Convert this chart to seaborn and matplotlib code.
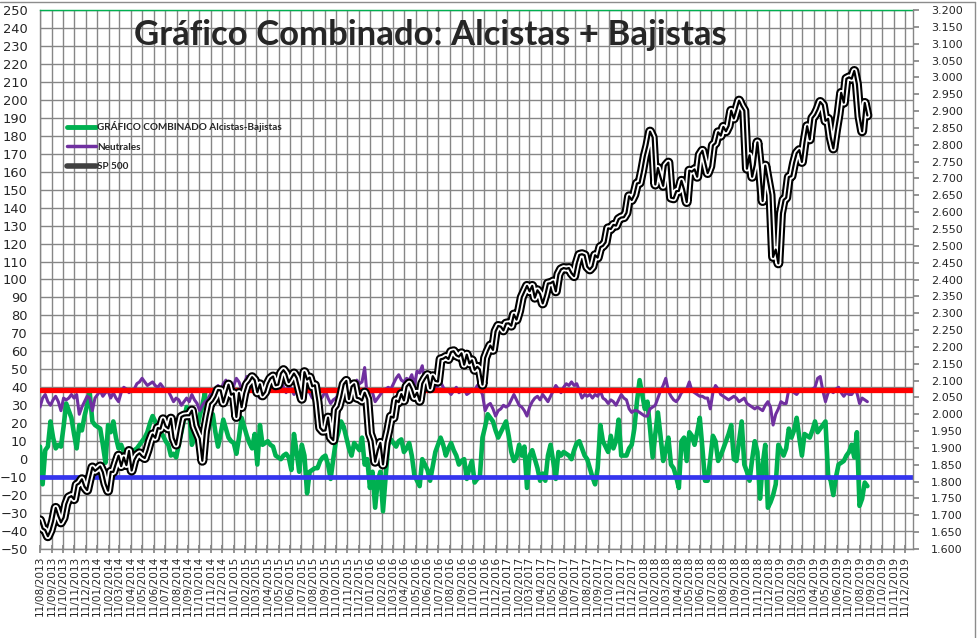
import numpy as np
import pandas as pd
import matplotlib
matplotlib.use('Agg')
import matplotlib.pyplot as plt
import matplotlib.dates as mdates
from matplotlib.lines import Line2D
from matplotlib.ticker import MultipleLocator, FuncFormatter
import seaborn as sns

sns.set_theme(style='white')
plt.rcParams['font.family'] = ['DejaVu Sans']

# ---------------- data ----------------
start_date = '2013-08-11'

# Bull-Bear spread (weekly)
spread = [7, -14, 5, 7, 21, 12, 6, 8, 7, 18,
          31, 27, 23, 14, 6, 19, 16, 24, 30, 37,
          21, 19, 18, 17, 8, -2, 19, 15, 21, 12,
          6, 8, 4, 1, -3, -7, 5, 6, 8, 10,
          12, 15, 20, 24, 21, 18, 15, 13, 10, 8,
          2, 3, 1, 8, 15, 22, 29, 27, 8, 12,
          17, 24, 30, 37, 15, 20, 25, 15, 7, 14,
          22, 17, 12, 10, 9, 3, 12, 23, 18, 13,
          9, 6, 14, -3, 19, 8, 9, 10, 8, 7,
          2, 1, 0, 2, 3, 1, -6, 14, 4, -7,
          8, 2, -19, -7, -6, -5, -5, -1, 1, 2,
          -3, -11, 0, 10, 15, 21, 18, 12, 6, 2,
          9, 7, 5, 12, -3, 0, -16, -7, -27, -12,
          -7, -29, -10, 8, 11, 9, 7, 10, 11, 4,
          6, 9, 2, -9, -12, -15, 0, -3, -6, -12,
          -4, 4, 8, 12, 8, 2, 6, 9, 5, 2,
          -3, -1, 0, -11, -5, -1, -13, -11, -10, 12,
          18, 25, 23, 21, 16, 12, 15, 18, 21, 13,
          4, -1, 1, 8, 2, 7, -16, 2, 5, 0,
          -5, -12, -8, -12, 2, 8, -1, -11, 4, 2,
          4, 3, 2, 0, 5, 9, 10, 6, 2, 0,
          -5, -10, -14, -5, 19, 10, 7, 4, 13, 6,
          10, 22, 2, 2, 2, 6, 8, 17, 32, 44,
          36, 28, 32, 17, 1, 14, 26, 13, -1, 5,
          12, -3, -5, -10, -16, 10, 12, -1, 15, 13,
          8, 15, 23, 6, -12, -12, 0, 13, 10, -1,
          2, 6, 10, 14, 19, 0, -1, 10, 21, -3,
          -7, -12, 0, 10, 4, -22, -3, 8, -27, -24,
          -20, -14, 8, 5, 2, 6, 17, 12, 16, 23,
          12, 2, 14, 13, 12, 16, 21, 15, 17, 19,
          21, -9, -12, -20, -10, -3, -2, -1, 2, 4,
          8, 1, 15, -26, -22, -13, -15]

# Neutral (weekly)
neutral = [29, 34, 36, 32, 30, 33, 35, 32, 27, 34,
           33, 34, 36, 34, 36, 25, 29, 32, 35, 34,
           27, 34, 36, 38, 35, 37, 38, 34, 37, 34,
           32, 37, 40, 39, 37, 38, 39, 42, 43, 45,
           43, 41, 42, 43, 41, 40, 42, 40, 38, 38,
           35, 32, 34, 33, 30, 32, 34, 32, 36, 33,
           31, 27, 30, 32, 33, 36, 38, 39, 41, 38,
           42, 44, 40, 37, 41, 45, 43, 39, 42, 46,
           41, 38, 38, 36, 34, 37, 39, 41, 43, 40,
           38, 42, 44, 40, 37, 41, 39, 36, 40, 43,
           38, 35, 39, 37, 34, 36, 35, 33, 35, 38,
           34, 31, 33, 34, 36, 33, 34, 36, 38, 43,
           40, 44, 42, 43, 51, 34, 38, 37, 32, 34,
           36, 38, 39, 40, 39, 42, 45, 47, 44, 43,
           45, 44, 47, 41, 49, 48, 52, 42, 47, 45,
           42, 39, 41, 43, 40, 38, 38, 36, 38, 40,
           37, 38, 39, 36, 37, 39, 38, 41, 39, 36,
           27, 30, 31, 28, 24, 27, 28, 30, 29, 30,
           33, 36, 33, 30, 29, 27, 24, 29, 32, 34,
           35, 33, 36, 34, 32, 35, 38, 41, 39, 37,
           40, 42, 41, 43, 41, 42, 38, 34, 36, 35,
           36, 34, 36, 35, 38, 34, 33, 31, 33, 32,
           30, 33, 36, 34, 33, 28, 26, 27, 27, 26,
           25, 24, 24, 28, 29, 30, 34, 38, 41, 45,
           38, 35, 33, 32, 34, 37, 38, 39, 43, 38,
           37, 36, 35, 35, 34, 34, 28, 37, 41, 39,
           36, 35, 34, 33, 34, 35, 34, 32, 33, 34,
           31, 30, 29, 28, 29, 28, 27, 30, 32, 29,
           19, 25, 28, 32, 31, 31, 39, 38, 37, 36,
           38, 38, 39, 38, 38, 39, 40, 45, 46, 38,
           32, 37, 38, 37, 39, 40, 37, 35, 37, 36,
           36, 38, 37, 31, 34, 33, 32]

# S&P 500 (weekly, right axis)
sp500 = [1685,
         1661, 1656, 1638, 1655, 1683, 1722, 1698, 1679, 1693, 1733,
         1753, 1757, 1748, 1790, 1795, 1807, 1785, 1775, 1810, 1842,
         1832, 1838, 1845, 1828, 1794, 1773, 1829, 1829, 1854, 1877,
         1846, 1872, 1849, 1891, 1833, 1864, 1878, 1884, 1875, 1870,
         1892, 1920, 1940, 1930, 1959, 1957, 1985, 1964, 1958, 1987,
         1930, 1910, 1955, 1992, 1996, 1997, 1997, 2011, 1965, 1946,
         1928, 1862, 1950, 1994, 2031, 2039, 2052, 2072, 2071, 2035,
         2061, 2088,
         2058, 2062, 1992, 2063, 2021, 2062, 2088, 2097, 2110, 2101,
         2065, 2089, 2056, 2066, 2091, 2106, 2112, 2086, 2088, 2121,
         2131, 2120, 2095, 2108, 2121, 2108, 2077, 2046, 2125, 2103,
         2109, 2083, 2086, 2036, 1960, 1951, 1952, 1990, 1932, 1923,
         2013, 2023, 2052, 2089, 2099, 2045, 2082, 2089, 2049, 2047,
         2041, 2064, 2044,
         1943, 1921, 1859, 1893, 1915, 1851, 1917, 1951, 1993, 1990,
         2041, 2036, 2060, 2041, 2082, 2091, 2075, 2051, 2064, 2040,
         2091, 2105, 2116, 2077, 2113, 2099, 2097, 2163, 2165, 2170,
         2164, 2185, 2187, 2175, 2171, 2181, 2147, 2177, 2151, 2160,
         2132, 2141, 2133, 2088, 2167, 2187, 2204, 2191, 2246, 2262,
         2260, 2249,
         2269, 2270, 2263, 2296, 2281, 2307, 2347, 2364, 2381, 2365,
         2381, 2346, 2368, 2357, 2329, 2355, 2388, 2389, 2394, 2365,
         2415, 2430, 2434, 2432, 2434, 2419, 2410, 2448, 2473, 2475,
         2472, 2438, 2430, 2439, 2472, 2465, 2496, 2500, 2510, 2552,
         2550, 2562, 2560, 2579, 2584, 2585, 2598, 2647, 2636, 2652,
         2685, 2687,
         2724, 2767, 2798, 2839, 2822, 2682, 2731, 2703, 2678, 2738,
         2747, 2643, 2641, 2662, 2663, 2693, 2667, 2630, 2723, 2720,
         2727, 2705, 2770, 2782, 2749, 2716, 2736, 2798, 2805, 2837,
         2827, 2853, 2840, 2856, 2901, 2878, 2904, 2931, 2914, 2901,
         2729, 2769, 2705, 2740, 2807, 2730, 2633, 2738, 2695, 2651,
         2467, 2489,
         2448, 2596, 2636, 2643, 2704, 2707, 2746, 2775, 2784, 2749,
         2808, 2855, 2816, 2879, 2889, 2905, 2927, 2918, 2871, 2877,
         2822, 2789, 2843, 2891, 2954, 2925, 2996, 3000, 2996, 3019,
         2980, 2884, 2840, 2924, 2887]

bull_level = 38.5
bear_level = -10

labels = ['GRÁFICO COMBINADO Alcistas-Bajistas', 'Neutrales', 'SP 500']
title = 'Gráfico Combinado: Alcistas + Bajistas'

# ---------------- figure ----------------
W, H = 977, 638
fig = plt.figure(figsize=(W / 100, H / 100), dpi=100)
fig.patch.set_facecolor('white')
ax = fig.add_axes([40 / W, (H - 549) / H, 873 / W, 539 / H])
ax2 = ax.twinx()

d_spread = pd.date_range(start_date, periods=len(spread), freq='7D')
d_neutral = pd.date_range(start_date, periods=len(neutral), freq='7D')
d_sp = pd.date_range(start_date, periods=len(sp500), freq='7D')

grid_c = '#868686'
sns.lineplot(x=d_spread, y=spread, ax=ax, color='#00B050', linewidth=3.3,
             estimator=None, zorder=3)
sns.lineplot(x=d_neutral, y=neutral, ax=ax, color='#7030A0', linewidth=2.2,
             estimator=None, zorder=4)
ax.axhline(bull_level, color='#FF0000', linewidth=3.8, zorder=5)
ax.axhline(bear_level, color='#3535EE', linewidth=3.4, zorder=5)

sns.lineplot(x=d_sp, y=sp500, ax=ax2, color='black', linewidth=7.2,
             estimator=None, zorder=3)
sns.lineplot(x=d_sp, y=sp500, ax=ax2, color='white', linewidth=4.2,
             estimator=None, zorder=4)
sns.lineplot(x=d_sp, y=sp500, ax=ax2, color='black', linewidth=1.6,
             estimator=None, zorder=5)

# axes
ax.set_xlim(pd.Timestamp('2013-08-11'), pd.Timestamp('2020-01-01'))
ax.set_ylim(-50, 250)
ax.yaxis.set_major_locator(MultipleLocator(10))
ax.xaxis.set_major_locator(mdates.MonthLocator(bymonthday=11))
ax.xaxis.set_major_formatter(mdates.DateFormatter('%d/%m/%Y'))
ax.grid(True, color=grid_c, linewidth=1.0)
ax.set_axisbelow(True)
ax.set_xlabel('')
ax.set_ylabel('')
ax.tick_params(axis='x', rotation=90, labelsize=7.6, direction='inout',
               length=6, color=grid_c, pad=2, bottom=True)
ax.tick_params(axis='y', labelsize=9.4, length=0, pad=9, left=True)
for lab in ax.get_xticklabels():
    lab.set_fontfamily('DejaVu Sans')

ax2.set_ylim(1600, 3200)
ax2.yaxis.set_major_locator(MultipleLocator(50))
ax2.yaxis.set_major_formatter(FuncFormatter(lambda v, p: f'{int(round(v)):,}'.replace(',', '.')))
ax2.tick_params(axis='y', labelsize=8.0, length=4, color=grid_c, pad=9, right=True)
ax2.set_ylabel('')
ax2.grid(False)

for s in ['left', 'bottom']:
    ax.spines[s].set_color(grid_c)
    ax.spines[s].set_linewidth(1.0)
ax.spines['top'].set_color('#00B050')
ax.spines['top'].set_linewidth(1.0)
ax.spines['right'].set_visible(False)
for s in ['left', 'top', 'bottom']:
    ax2.spines[s].set_visible(False)
ax2.spines['right'].set_color(grid_c)
ax2.spines['right'].set_linewidth(1.0)

# title
fig.text(430 / W, 1 - 35 / H, title, ha='center', va='center',
         fontsize=25, fontweight='bold', family=['Lato', 'DejaVu Sans'])

# legend
handles = [Line2D([], [], color='#00B050', linewidth=3.5),
           Line2D([], [], color='#7030A0', linewidth=2.5),
           Line2D([], [], color='#404040', linewidth=4.0)]
fig.legend(handles, labels, loc='upper left', bbox_to_anchor=(67 / W, 1 - 121 / H),
           frameon=False, prop={'family': 'Lato', 'weight': 'bold', 'size': 7.2},
           handlelength=2.9, handletextpad=0.1, labelspacing=1.05,
           borderpad=0, borderaxespad=0)

# chart-area frame (top and right edges)
fig.add_artist(Line2D([0, 974.5 / W], [1 - 2 / H, 1 - 2 / H], transform=fig.transFigure,
                      color='#8c8c8c', linewidth=1.0))
fig.add_artist(Line2D([974.5 / W, 974.5 / W], [0, 1 - 2 / H], transform=fig.transFigure,
                      color='#8c8c8c', linewidth=1.0))

fig.savefig('out.png', dpi=100, facecolor='white')
